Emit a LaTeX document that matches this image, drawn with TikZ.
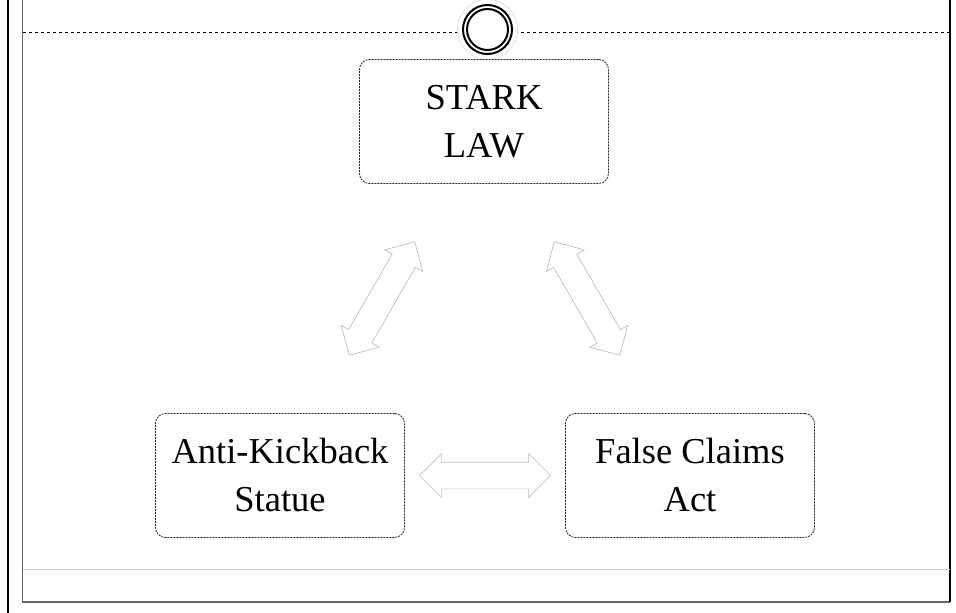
\documentclass[tikz,border=0pt]{standalone}
\usepackage{fontspec}
\setmainfont{Liberation Serif}
\usetikzlibrary{shapes.arrows,calc}

\begin{document}
\begin{tikzpicture}[x=1pt,y=-1pt,
  lawbox/.style={draw=black!85,line width=0.8pt,dash pattern=on 2pt off 1pt,rounded corners=10pt,
    minimum width=249pt,minimum height=124pt,align=center,
    font=\fontsize{36.5}{48}\selectfont},
  linkarrow/.style={double arrow,draw=black!25,line width=0.7pt,minimum height=131pt,
    double arrow head extend=8.5pt,double arrow tip angle=90,
    inner xsep=0pt,inner ysep=13pt}]
  \useasboundingbox (0,0) rectangle (956,613);
  % page frame
  \draw [line width=2pt] (8,0) -- (8,613);
  \draw [black!60,line width=1.5pt] (22.5,0) -- (22.5,602);
  \draw [black!60,line width=2pt] (22,602) -- (950,602);
  \draw [line width=1.5pt] (950,0) -- (950,602);
  \draw [black!20,line width=1pt] (23,569) -- (950,569);
  \draw [dashed,line width=0.9pt] (23,32.5) -- (950,32.5);
  % target mark on the top rule
  \filldraw [draw=black!15,fill=white,line width=0.6pt] (487.5,29.5) circle (30);
  \draw [line width=2pt] (487.5,29.5) circle (24.5);
  \draw [line width=2pt] (487.5,29.5) circle (20.5);
  % the three laws
  \node [lawbox] (stark) at (484,121.5) {STARK\\LAW};
  \node [lawbox] (aks) at (280,475.5) {Anti-Kickback\\Statue};
  \node [lawbox] (fca) at (690,475.5) {False Claims\\Act};
  % links
  \node [linkarrow,rotate=60] (aksstark) at ($(aks)!0.5!(stark)$) {};
  \node [linkarrow,rotate=-60] (starkfca) at ($(stark)!0.5!(fca)$) {};
  \node [linkarrow] (aksfca) at ($(aks)!0.5!(fca)$) {};
\end{tikzpicture}
\end{document}
